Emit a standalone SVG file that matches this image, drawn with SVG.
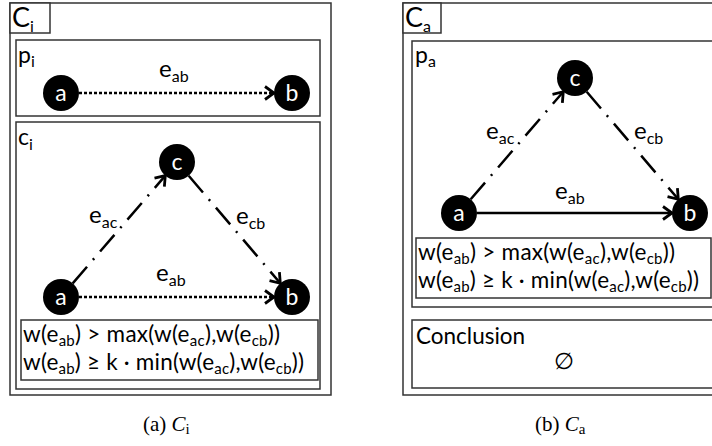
<svg xmlns="http://www.w3.org/2000/svg" width="712" height="446" viewBox="0 0 712 446">
  <style>
    .box { fill: #ffffff; stroke: #333333; stroke-width: 1.5; }
    .lbl { font-family: "Lato", "Liberation Sans", sans-serif; fill: #000000; }
    .big { font-size: 27px; }
    .mid { font-size: 23px; }
    .edge { font-size: 24px; }
    .f { font-size: 22.5px; }
    .fs { font-size: 15px; }
    .s { font-size: 16px; }
    .node circle { fill: #000000; }
    .node text { font-family: "Lato", "Liberation Sans", sans-serif; font-size: 23px; fill: #ffffff; text-anchor: middle; }
    .dotted { fill: none; stroke: #000000; stroke-width: 2.5; stroke-dasharray: 3 2; }
    .dashdot { fill: none; stroke: #000000; stroke-width: 2.5; stroke-dasharray: 22 9 2 9; }
    .solid { fill: none; stroke: #000000; stroke-width: 2.5; }
    .cap { font-family: "Liberation Serif", "Times New Roman", serif; font-size: 21px; fill: #000000; }
  </style>
  <defs>
    <marker id="arrow" markerUnits="userSpaceOnUse" markerWidth="20" markerHeight="20" refX="10" refY="10" orient="auto" viewBox="0 0 20 20">
      <path d="M1,3.5 L10,10 L1,16.5" fill="none" stroke="#000000" stroke-width="2.8" stroke-linejoin="miter"/>
    </marker>
  </defs>

  <!-- Panel (a): frame and sub-frames -->
  <g id="frame-Ci">
    <rect class="box" x="10" y="3" width="321" height="392"/>
    <rect class="box" x="10" y="3" width="40" height="30"/>
    <text class="lbl big" x="12" y="27">C<tspan class="s" dy="5">i</tspan></text>
  </g>
  <g id="frame-pi">
    <rect class="box" x="16" y="40" width="304" height="76"/>
    <text class="lbl mid" x="18" y="63">p<tspan class="s" dy="4">i</tspan></text>
  </g>
  <g id="frame-ci">
    <rect class="box" x="16" y="122" width="304" height="267"/>
    <text class="lbl mid" x="18" y="145">c<tspan class="s" dy="5">i</tspan></text>
  </g>
  <g id="cond-ci">
    <rect class="box" x="21" y="320" width="297" height="60"/>
    <text class="lbl f" x="23" y="342" textLength="257">w(e<tspan class="fs" dy="4">ab</tspan><tspan dy="-4">) &gt; max(w(e</tspan><tspan class="fs" dy="4">ac</tspan><tspan dy="-4">),w(e</tspan><tspan class="fs" dy="4">cb</tspan><tspan dy="-4">))</tspan></text>
    <text class="lbl f" x="23" y="370" textLength="281">w(e<tspan class="fs" dy="4">ab</tspan><tspan dy="-4">) ≥ k · min(w(e</tspan><tspan class="fs" dy="4">ac</tspan><tspan dy="-4">),w(e</tspan><tspan class="fs" dy="4">cb</tspan><tspan dy="-4">))</tspan></text>
  </g>

  <!-- Panel (b): frame and sub-frames -->
  <g id="frame-Ca">
    <rect class="box" x="403" y="3" width="321" height="392"/>
    <rect class="box" x="403" y="3" width="38" height="30"/>
    <text class="lbl big" x="405" y="27">C<tspan class="s" dy="5">a</tspan></text>
  </g>
  <g id="frame-pa">
    <rect class="box" x="412" y="41" width="304" height="266"/>
    <text class="lbl mid" x="415" y="63">p<tspan class="s" dy="4">a</tspan></text>
  </g>
  <g id="cond-pa">
    <rect class="box" x="416" y="238" width="295" height="60"/>
    <text class="lbl f" x="418" y="260" textLength="257">w(e<tspan class="fs" dy="4">ab</tspan><tspan dy="-4">) &gt; max(w(e</tspan><tspan class="fs" dy="4">ac</tspan><tspan dy="-4">),w(e</tspan><tspan class="fs" dy="4">cb</tspan><tspan dy="-4">))</tspan></text>
    <text class="lbl f" x="418" y="288" textLength="281">w(e<tspan class="fs" dy="4">ab</tspan><tspan dy="-4">) ≥ k · min(w(e</tspan><tspan class="fs" dy="4">ac</tspan><tspan dy="-4">),w(e</tspan><tspan class="fs" dy="4">cb</tspan><tspan dy="-4">))</tspan></text>
  </g>
  <g id="conclusion">
    <rect class="box" x="412" y="320" width="304" height="68"/>
    <text class="lbl f" x="416" y="344">Conclusion</text>
    <text class="lbl f" x="564" y="369" text-anchor="middle">∅</text>
  </g>

  <!-- Connectors -->
  <g id="connectors">
    <line class="dotted" x1="79" y1="93" x2="274" y2="93" marker-end="url(#arrow)"/>
    <line class="dashdot" x1="72.7" y1="283.4" x2="165.3" y2="175.6" marker-end="url(#arrow)"/>
    <line class="dashdot" x1="188.7" y1="175.7" x2="280.3" y2="283.3" marker-end="url(#arrow)"/>
    <line class="dotted" x1="79" y1="297" x2="274" y2="297" marker-end="url(#arrow)"/>
    <line class="dashdot" x1="470.7" y1="199.3" x2="563.3" y2="91.7" marker-end="url(#arrow)"/>
    <line class="dashdot" x1="586.7" y1="91.7" x2="678.3" y2="199.3" marker-end="url(#arrow)"/>
    <line class="solid" x1="477" y1="213" x2="672" y2="213" marker-end="url(#arrow)"/>
  </g>

  <!-- Edge labels -->
  <g id="edge-labels">
    <text class="lbl edge" x="159" y="77">e<tspan class="s" dy="5">ab</tspan></text>
    <text class="lbl edge" x="156" y="281">e<tspan class="s" dy="5">ab</tspan></text>
    <text class="lbl edge" x="89" y="223">e<tspan class="s" dy="5">ac</tspan></text>
    <text class="lbl edge" x="236" y="224">e<tspan class="s" dy="5">cb</tspan></text>
    <text class="lbl edge" x="486" y="139">e<tspan class="s" dy="5">ac</tspan></text>
    <text class="lbl edge" x="634" y="139">e<tspan class="s" dy="5">cb</tspan></text>
    <text class="lbl edge" x="555" y="199">e<tspan class="s" dy="5">ab</tspan></text>
  </g>

  <!-- Nodes, panel (a) -->
  <g id="pi-a" class="node"><circle cx="61" cy="93" r="18"/><text x="61" y="101">a</text></g>
  <g id="pi-b" class="node"><circle cx="292" cy="93" r="18"/><text x="292" y="101">b</text></g>
  <g id="ci-a" class="node"><circle cx="61" cy="297" r="18"/><text x="61" y="305">a</text></g>
  <g id="ci-b" class="node"><circle cx="292" cy="297" r="18"/><text x="292" y="305">b</text></g>
  <g id="ci-c" class="node"><circle cx="177" cy="162" r="18"/><text x="177" y="170">c</text></g>

  <!-- Nodes, panel (b) -->
  <g id="pa-a" class="node"><circle cx="459" cy="213" r="18"/><text x="459" y="221">a</text></g>
  <g id="pa-b" class="node"><circle cx="690" cy="213" r="18"/><text x="690" y="221">b</text></g>
  <g id="pa-c" class="node"><circle cx="575" cy="78" r="18"/><text x="575" y="86">c</text></g>

  <!-- Captions -->
  <text class="cap" x="143" y="431">(a) <tspan font-style="italic">C</tspan><tspan font-size="15" dy="3">i</tspan></text>
  <text class="cap" x="535" y="431">(b) <tspan font-style="italic">C</tspan><tspan font-size="15" dy="3">a</tspan></text>
</svg>
